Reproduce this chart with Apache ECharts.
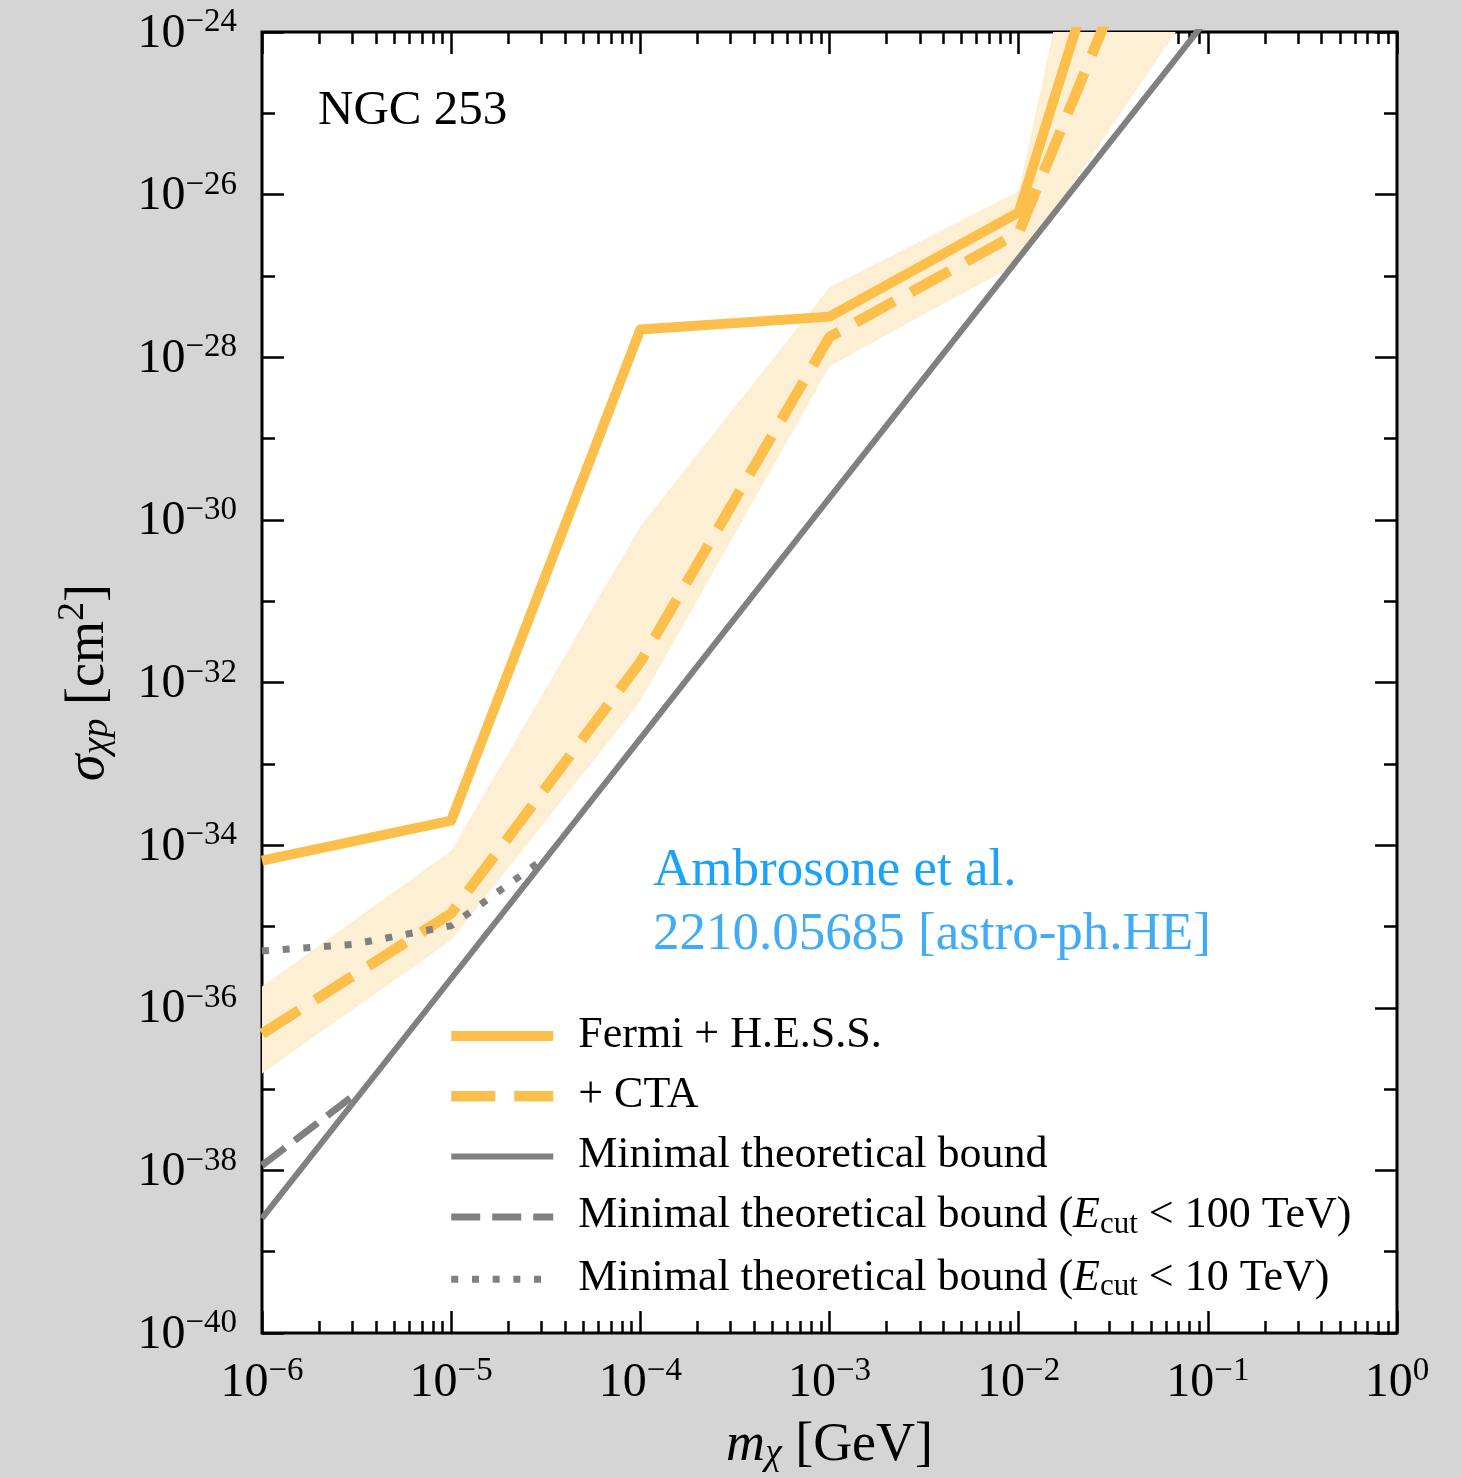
<!DOCTYPE html>
<html><head><meta charset="utf-8">
<script src="https://cdn.jsdelivr.net/npm/echarts@6/dist/echarts.min.js"></script>
<style>html,body{margin:0;padding:0;background:#d5d5d5}#c{width:1461px;height:1478px}</style>
</head><body><div id="c"></div>
<script>
// ---------- data ----------
const massGeV        = [1e-6, 1e-5, 1e-4, 1e-3, 1e-2, 1e-1];
const fermiHess      = [6.46e-35, 2.0e-34, 2.19e-28, 3.16e-28, 6.03e-27, 1.78e-19];
const plusCTA        = [4.79e-37, 1.45e-35, 1.78e-32, 1.78e-28, 3.39e-27, 1.55e-21];
const ctaBandUpper   = [1.82e-36, 8.51e-35, 8.32e-31, 7.24e-28, 1.10e-26, 6.3e-16];
const ctaBandLower   = [1.55e-37, 6.76e-36, 5.89e-33, 7.76e-29, 1.45e-27, 3.8e-24];
const minBound       = [2.57e-39, 2.29e-36, 2.04e-33, 1.86e-30, 1.66e-27, 1.48e-24];
const minBound100Mass = [1e-6, 3e-6];
const minBound100     = [1.15e-38, 8.1e-38];
const minBound10Mass  = [1e-6, 3e-6, 1e-5, 2.84e-5];
const minBound10      = [5.0e-36, 6.0e-36, 1.02e-35, 5.9e-35];

// tick labels (exponents of ten)
const xTickExponents  = [-6, -5, -4, -3, -2, -1, 0];
const yExpMin = -40, yExpMax = -24, yExpStep = 2;   // y labels 10^-40 ... 10^-24
const minorMantissas  = [2, 3, 4, 5, 6, 7, 8, 9];

const legendNames = [
  'Fermi + H.E.S.S.',
  '+ CTA',
  'Minimal theoretical bound',
  'Minimal theoretical bound (E_cut < 100 TeV)',
  'Minimal theoretical bound (E_cut < 10 TeV)'
];

// ---------- styling ----------
const FONT = 'Liberation Serif';
const ORANGE = '#fdbf4b', BAND = '#fdefd4', GRAY = '#808080';

const pow10 = e => Math.pow(10, e);
const xMajor = xTickExponents.map(pow10);
const xMinor = [];
xTickExponents.slice(0, -1).forEach(e => minorMantissas.forEach(m => xMinor.push(m * pow10(e))));

function expLabel(e) {
  e = Math.round(e);
  return '{b|10}{e|' + (e < 0 ? '\u2212' : '') + Math.abs(e) + '}';
}
const powLabel = v => expLabel(Math.log10(v));
const labelRich = {
  b: { fontFamily: FONT, fontSize: 48, lineHeight: 52, color: '#000', verticalAlign: 'bottom' },
  e: { fontFamily: FONT, fontSize: 33, lineHeight: 30, color: '#000', verticalAlign: 'top' }
};

function mkX(pos, values, len, labels, extra) {
  return Object.assign({
    type: 'log', logBase: 10, min: 1e-6, max: 1, position: pos, gridIndex: 0,
    axisLine: { show: false, onZero: false }, splitLine: { show: false }, minorTick: { show: false },
    axisTick: { show: true, inside: true, length: len, customValues: values, lineStyle: { color: '#000', width: 2.5 } },
    axisLabel: labels ? { show: true, customValues: values, formatter: powLabel, margin: 22, rich: labelRich } : { show: false }
  }, extra || {});
}
// decorative exponent axis for the y ticks (same mapping as the log axis)
function mkYTicks(pos, labels, extra) {
  return Object.assign({
    type: 'value', min: yExpMin, max: yExpMax, interval: yExpStep, position: pos, gridIndex: 0,
    axisLine: { show: false, onZero: false }, splitLine: { show: false },
    axisTick: { show: true, inside: true, length: 22, lineStyle: { color: '#000', width: 2.5 } },
    minorTick: { show: true, splitNumber: 2, length: 13, lineStyle: { color: '#000', width: 2.5 } },
    minorSplitLine: { show: false },
    axisLabel: labels ? { show: true, formatter: expLabel, margin: 25, rich: labelRich } : { show: false }
  }, extra || {});
}

const nameRich = {
  n: { fontFamily: FONT, fontSize: 54, lineHeight: 62, color: '#000', verticalAlign: 'bottom' },
  i: { fontFamily: FONT, fontSize: 54, lineHeight: 62, color: '#000', fontStyle: 'italic', verticalAlign: 'bottom' },
  s: { fontFamily: FONT, fontSize: 38, lineHeight: 28, color: '#000', fontStyle: 'italic', verticalAlign: 'bottom' },
  p: { fontFamily: FONT, fontSize: 38, lineHeight: 33, color: '#000', verticalAlign: 'top' }
};

const legendRich = {
  n: { fontFamily: FONT, fontSize: 44, lineHeight: 46, color: '#000', verticalAlign: 'top' },
  i: { fontFamily: FONT, fontSize: 44, lineHeight: 46, color: '#000', fontStyle: 'italic', verticalAlign: 'top' },
  s: { fontFamily: FONT, fontSize: 31, lineHeight: 24, color: '#000', verticalAlign: 'bottom' }
};
function legendFmt(name) {
  const m = name.match(/^(.*)\(E_cut (.*)\)$/);
  if (m) return '{n|' + m[1] + '(}{i|E}{s|cut}{n| ' + m[2] + ')}';
  return '{n|' + name + '}';
}
const legendLineStyles = [
  { color: ORANGE, width: 10, type: 'solid' },
  { color: ORANGE, width: 10.5, type: [44, 19] },
  { color: GRAY, width: 6, type: 'solid' },
  { color: GRAY, width: 7, type: [29, 12] },
  { color: GRAY, width: 7, type: [7, 13.7] }
];

const chart = echarts.init(document.getElementById('c'), null, { renderer: 'canvas' });
chart.setOption({
  backgroundColor: '#d5d5d5',
  animation: false,
  grid: { left: 262, top: 32, right: 64, bottom: 143, show: true, backgroundColor: '#ffffff', borderColor: '#000', borderWidth: 3 },
  xAxis: [
    mkX('bottom', xMajor, 22, true, {
      name: '{i|m}{s|\u03c7}{n| [GeV]}', nameLocation: 'middle', nameGap: 78,
      nameTextStyle: { rich: nameRich }
    }),
    mkX('bottom', xMinor, 12, false),
    mkX('top', xMajor, 22, false),
    mkX('top', xMinor, 12, false)
  ],
  yAxis: [
    { type: 'log', logBase: 10, min: 1e-40, max: 1e-24, position: 'left', gridIndex: 0,
      axisLine: { show: false, onZero: false }, axisTick: { show: false }, axisLabel: { show: false },
      splitLine: { show: false }, minorTick: { show: false } },
    mkYTicks('left', true, {
      name: '{i|\u03c3}{s|\u03c7p}{n| [cm}{p|2}{n|]}', nameLocation: 'middle', nameGap: 146, nameRotate: 90,
      nameTextStyle: { rich: nameRich }
    }),
    mkYTicks('right', false)
  ],
  legend: {
    data: legendNames.map((n, i) => ({ name: n, lineStyle: legendLineStyles[i], itemStyle: { opacity: 0, color: 'rgba(0,0,0,0)', borderWidth: 0 } })),
    orient: 'vertical', left: 446, top: 1013, padding: 0,
    itemWidth: 102, itemHeight: 14, itemGap: 16.3, selectedMode: false,
    formatter: legendFmt,
    textStyle: { fontFamily: FONT, fontSize: 44, color: '#000', padding: [0, 0, 0, 20], rich: legendRich }
  },
  graphic: [
    { type: 'text', x: 318, y: 111, z: 100, style: { text: 'NGC 253', font: '49px "Liberation Serif"', fill: '#000', verticalAlign: 'middle' } },
    { type: 'text', x: 653, y: 871, z: 100, style: { text: 'Ambrosone et al.', font: '53px "Liberation Serif"', fill: '#1aa3f7', verticalAlign: 'middle' } },
    { type: 'text', x: 653, y: 935, z: 100, style: { text: '2210.05685 [astro-ph.HE]', font: '53px "Liberation Serif"', fill: '#42abf5', verticalAlign: 'middle' } }
  ],
  series: [
    {
      type: 'custom', name: 'CTA band', coordinateSystem: 'cartesian2d', clip: true, silent: true, z: 1,
      xAxisIndex: 0, yAxisIndex: 0,
      data: massGeV.map((m, i) => [m, ctaBandLower[i], ctaBandUpper[i]]),
      encode: { x: 0, y: [1, 2] },
      renderItem: function (params, api) {
        if (params.dataIndex !== 0) return null;
        const pts = [];
        for (let i = 0; i < massGeV.length; i++) pts.push(api.coord([massGeV[i], ctaBandUpper[i]]));
        for (let i = massGeV.length - 1; i >= 0; i--) pts.push(api.coord([massGeV[i], ctaBandLower[i]]));
        return { type: 'polygon', shape: { points: pts }, style: { fill: BAND } };
      }
    },
    {
      type: 'line', name: legendNames[0], z: 3, clip: true, symbol: 'none', showSymbol: false, xAxisIndex: 0, yAxisIndex: 0,
      data: massGeV.map((m, i) => [m, fermiHess[i]]),
      itemStyle: { color: ORANGE }, lineStyle: { color: ORANGE, width: 10, join: 'round' }
    },
    {
      type: 'line', name: legendNames[1], z: 3, clip: true, symbol: 'none', showSymbol: false, xAxisIndex: 0, yAxisIndex: 0,
      data: massGeV.map((m, i) => [m, plusCTA[i]]),
      itemStyle: { color: ORANGE }, lineStyle: { color: ORANGE, width: 10.5, type: [44, 19] }
    },
    {
      type: 'line', name: legendNames[2], z: 4, clip: true, symbol: 'none', showSymbol: false, xAxisIndex: 0, yAxisIndex: 0,
      data: massGeV.map((m, i) => [m, minBound[i]]),
      itemStyle: { color: GRAY }, lineStyle: { color: GRAY, width: 6 }
    },
    {
      type: 'line', name: legendNames[3], z: 4, clip: true, symbol: 'none', showSymbol: false, xAxisIndex: 0, yAxisIndex: 0,
      data: minBound100Mass.map((m, i) => [m, minBound100[i]]),
      itemStyle: { color: GRAY }, lineStyle: { color: GRAY, width: 7, type: [29, 12] }
    },
    {
      type: 'line', name: legendNames[4], z: 4, clip: true, symbol: 'none', showSymbol: false, xAxisIndex: 0, yAxisIndex: 0,
      data: minBound10Mass.map((m, i) => [m, minBound10[i]]),
      itemStyle: { color: GRAY }, lineStyle: { color: GRAY, width: 7, type: [7, 13.7] }
    }
  ]
});
</script></body></html>
